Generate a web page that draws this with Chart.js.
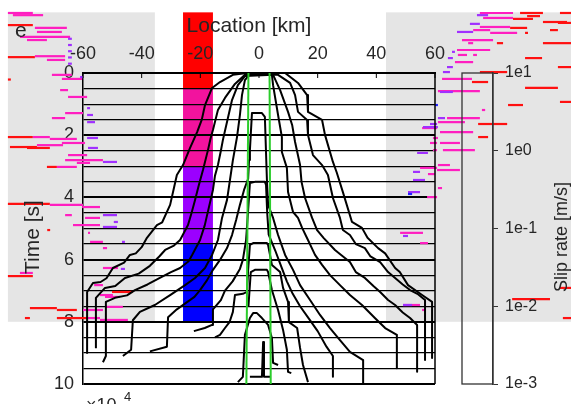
<!DOCTYPE html>
<html><head><meta charset="utf-8">
<style>
html,body{margin:0;padding:0;background:#fff;}
#wrap{position:relative;width:571px;height:404px;overflow:hidden;}
#c1{position:absolute;left:0;top:0;}
#c2{position:absolute;left:440px;top:0;}
</style>
<script src="https://cdn.jsdelivr.net/npm/chart.js@4.4.0/dist/chart.umd.min.js"></script>
</head><body>
<div id="wrap"><canvas id="c1" width="571" height="404"></canvas><canvas id="c2" width="131" height="404"></canvas></div>
<script>
// ---------- data ----------
const locationTicks = [-60,-40,-20,0,20,40,60];
const timeTicks = [0,2,4,6,8,10];
const slipRateTicks = [1e1,1e0,1e-1,1e-2,1e-3];
const slipRateLabels = ['1e1','1e0','1e-1','1e-2','1e-3'];
const xTitle = 'Location [km]';
const yTitle = 'Time [s]';
const cTitle = 'Slip rate [m/s]';
const panelLabel = 'e';

// grey background panels: [kmFrom, kmTo, tFrom, tTo]
const greyPanels = [[-85.6,-35.5,-1.95,8.0],[43.3,107,-1.95,8.0]];
// coloured band
const bandLocation = [-25.9,-15.7];
const bandTimes = [-1.95,0.5,3.0,5.5,8.0];

// contour curves [km, s]
const contourA = [[-58.6,9.03],[-58.6,7.04],[-56.6,6.75],[-54,6.72],[-52,6.6],[-49.8,6.27],[-46,6.1],[-44,5.85],[-42,5.8],[-40,5.6],[-38.2,5.3],[-34.8,4.89],[-33,4.8],[-30.3,4.24],[-29,3.7],[-28,3.28],[-25.9,2.96],[-23.5,2.41],[-21.1,1.9],[-19.5,1.5],[-18.4,1.03],[-16,0.48],[-13.3,0.29],[-8.9,0.06],[-4.1,0],[8.9,0],[13.3,0.32],[16.4,0.71],[16.7,1.25],[21.5,1.51],[22.5,1.99],[25.2,2.86],[26.5,3.2],[28.6,3.83],[31.7,4.79],[35.1,4.98],[37,5.3],[40.6,5.63],[43,5.8],[46.4,6.27],[48,6.4],[50.8,6.82],[55.6,7.14],[59,7.36],[59,9.16]];
const contourB = [[-55.6,8.85],[-55.6,7.23],[-52.5,6.91],[-49,6.85],[-45.7,6.59],[-41,6.45],[-37.2,6.2],[-34,5.9],[-32,5.69],[-29,5.55],[-26.9,5.37],[-24.2,4.89],[-23,4.5],[-21.8,4.08],[-20.5,3.6],[-19.1,3.12],[-17.4,2.48],[-16.5,2.1],[-15.7,1.83],[-14,1.19],[-11.6,0.8],[-8.2,0.35],[-4.8,0.06],[6.5,0.06],[10.6,0.32],[12.3,0.71],[13.3,1.25],[16.4,1.51],[16.7,1.99],[18.4,2.64],[21.5,2.96],[23.5,3.28],[25.2,4.02],[27.6,4.66],[28.6,5.05],[31,5.21],[33,5.5],[36.1,5.63],[38,5.9],[41.3,6.08],[44,6.4],[46.4,6.59],[49,6.8],[51.5,6.98],[54,7.1],[56.6,7.3],[56.6,9.23]];
const contourC = [[-53.2,9.3],[-52.2,9.1],[-52.2,7.36],[-49.1,7.23],[-45,7.15],[-42.3,6.98],[-38,6.8],[-33.8,6.59],[-30,6.4],[-26.9,6.27],[-24,6.05],[-22.8,5.85],[-20.1,5.37],[-18.5,4.9],[-17.7,4.57],[-15.7,3.76],[-15,3.3],[-14,2.96],[-13,2.5],[-12.3,2.15],[-10.6,1.45],[-9.2,0.87],[-7.2,0.39],[-4.8,0.1],[4.8,0.06],[7.2,0.55],[9.9,1.25],[11.3,1.67],[12.3,2.22],[14,2.96],[14.5,3.5],[15.7,4.02],[18.1,4.66],[19.8,5.05],[22,5.3],[25.9,5.69],[28,5.85],[31,6.08],[33,6.4],[36.1,6.59],[39,6.85],[41.3,7.04],[44,7.3],[46.4,7.46],[49,7.7],[51.5,7.88],[53.9,8.1],[53.9,9.61]];
const contourD = [[-46.4,9.1],[-43.6,8.9],[-43,7.95],[-40.6,7.68],[-35.5,7.46],[-30.3,7.14],[-25.2,6.82],[-21.8,6.59],[-18.4,6.27],[-16,5.85],[-14,5.37],[-12.6,4.66],[-10.9,4.08],[-9.9,3.44],[-8.9,2.8],[-7.5,2.06],[-6.5,1.35],[-5.8,0.71],[-4.8,0.23],[-3.1,0.03],[4.4,0.06],[4.8,0.39],[6.5,1.35],[7.8,2.06],[7.8,2.54],[9.5,3.05],[9.9,3.83],[11.6,4.47],[13.3,4.66],[14.7,4.98],[16.7,5.37],[19.1,5.85],[21.5,6.17],[24.2,6.5],[27.6,6.82],[31,7.14],[35.1,7.46],[39.5,7.88],[43,8.2],[47,8.42],[47,9.49]];
const contourE = [[-37.2,8.95],[-31.4,8.8],[-31,7.85],[-28,7.6],[-25,7.4],[-22,7.2],[-20.1,6.98],[-17.7,6.66],[-15.7,6.33],[-13.3,6.01],[-10.9,5.63],[-9.2,5.21],[-7.8,4.73],[-6.5,4.24],[-5.1,3.76],[-3.7,3.4],[-3.4,2.8],[-3.1,2.48],[-2.4,1.29],[1,1.29],[2,1.41],[2.7,3.44],[3.1,4.24],[4.8,4.66],[6.5,5.21],[8.9,5.85],[11.6,6.33],[14,6.82],[17.4,7.3],[20.8,7.78],[24.2,8.2],[27.6,8.59],[31,8.97],[35.5,9.23],[35.5,9.97]];
const contourF = [[-22.2,8.3],[-18.5,8.2],[-16,8.1],[-15.7,7.6],[-13,7.3],[-11.6,7.0],[-9,6.7],[-6.5,6.3],[-5.5,6.01],[-4.4,5.37],[-3.7,4.4],[-3.1,3.54],[-1.4,3.5],[2,3.5],[2.4,3.6],[2.8,4.5],[3.3,5.2],[5.5,5.7],[7.5,6.2],[9.5,6.7],[11.5,7.1],[14,7.5],[17,7.9],[20,8.3],[23,8.8],[25.2,9.1],[25.2,9.77]];
const contourG = [[-15,8.5],[-13.3,8.42],[-11.6,8.2],[-10,8.0],[-8.9,7.68],[-8.2,7.14],[-5.5,7.1],[-4.1,7.04],[-3.7,6.33],[-3.1,5.53],[-2,5.47],[2.7,5.47],[3.1,5.53],[4.4,6.17],[7.2,6.4],[8.2,6.91],[9.9,7.36],[10.2,8.01],[13,8.2],[14,8.84],[15,9.39],[16.7,9.94]];
const contourH = [[-3.6,7.5],[-2.8,6.4],[-1.4,6.33],[2.7,6.33],[3.1,6.4],[4.4,6.98],[6.5,7.62],[8.2,8.26],[9.5,8.9],[9.9,9.61],[11,9.65]];
const contourI = [[-7.2,9.94],[-5.5,9.77],[-4.8,8.42],[-3.1,7.88],[-2,7.72],[-0.7,7.72],[1,7.88],[3.1,8.1],[4.4,8.52],[4.8,9.32],[6.5,9.39]];
const contourJ = [[-3.1,9.77],[1,9.77],[1.4,8.65],[1.7,9.77],[3.75,9.77]];
const contours = [contourA,contourB,contourC,contourD,contourE,contourF,contourG,contourH,contourI,contourJ];

const greenLeft = [[-3.6,0],[-4.3,10]];
const greenRight = [[3.6,0],[4.0,10]];

// slip-rate dashes [kmFrom, kmTo, time]
const redDashes = [[-85.6,-77.1,-1.54],[-85.6,-76.4,-0.51],[-85.6,-84.6,0.21],[-85.6,-77.1,2.06],[-84.9,-75.7,2.38],[-79.1,-71.3,2.41],[-72.3,-68.9,3.02],[-85.6,-71.3,4.21],[-72.2,-71.2,5.05],[-85.6,-77.1,6.53],[-50.1,-43,7.04],[-78.1,-68.9,7.56],[-68.9,-62.1,7.62],[-79.8,-78.1,7.88],[-68.9,-58.6,7.88],
[102.6,106.4,-1.93],[89,96.8,-1.93],[91.4,95.8,-1.83],[86.6,93.4,-1.74],[96.8,105,-1.64],[101.9,106.4,-1.61],[85.6,91.4,-1.45],[99.2,101.9,-1.38],[90.7,91.7,-1.29],[81.1,83.2,-0.96],[96.8,106.4,-0.96],[90.7,96.5,-0.48],[101.9,106.4,-0.19],[75.3,84.6,-0.03],[72.6,78.1,0.29],[90.7,101.9,0.48],[102.6,106.4,0.93],[84.9,90,1.03],[74.7,84.6,1.64],[74.7,78.1,2.06],[86.3,99.2,7.27],[102.6,106.4,6.91],[103.6,106.4,7.88]];
const magentaDashes = [[-85.6,-77.1,-1.93],[-83.9,-73.6,-1.86],[-76.4,-65.5,-1.45],[-75.7,-67.2,-1.32],[-81.5,-64.4,-1.16],[-79.1,-72.3,-1.06],[-76.4,-66.1,-0.54],[-72.3,-66.1,-0.42],[-70.6,-63.8,0.06],[-67.2,-60.3,0.19],[-67.8,-65.1,0.55],[-65.1,-58.6,0.77],[-70.6,-66.1,1.45],[-66.1,-60,1.29],[-77.1,-71.3,2.06],[-71.3,-62.1,2.12],[-75.7,-66.8,2.32],[-67.2,-59.3,2.25],[-65.1,-58.6,2.64],[-66.1,-53.2,2.8],[-62.1,-57.6,2.89],[-68.9,-62.1,3.02],[-71.3,-60,4.24],[-60.3,-54.2,4.31],[-66.1,-63.8,4.57],[-59.3,-54.2,4.66],[-63.4,-54.2,4.89],[-58.3,-57.6,5.14],[-57.6,-53.2,5.43],[-53.2,-51.8,5.63],[-53.2,-48.1,6.27],[-81.5,-77.1,6.43],[-56.2,-53.2,6.82],[-54.2,-49.8,7.14],[-52.5,-47.4,7.2],[-60,-53.2,7.62],[-52.5,-46.4,7.52],[-58.6,-54.2,7.88],[-54.2,-44.7,7.94],
[75.3,86.6,-1.93],[76.4,86.6,-1.77],[75.3,85.6,-1.48],[73,78.8,-1.38],[78.8,88,-1.29],[69.2,79.8,-1.06],[71.3,73,-0.96],[67.5,78.8,-0.74],[67.8,70.9,-0.58],[73,74.3,-0.58],[66.8,73,-0.35],[62.4,72.6,0.19],[61,75.3,0.58],[76,77.1,1.19],[64.1,75.3,1.45],[61,70.2,1.58],[61.7,73,1.9],[59.3,61,2.09],[61.7,68.5,2.25],[59.3,60.7,2.48],[62.7,73.6,2.48],[61,65.1,2.96],[54.9,60.7,3.05],[60.7,68.5,3.12],[57.6,59.9,3.25],[61,62.4,3.7],[55.6,60.7,1.77],[58.3,60.7,2.25],[57.3,60.7,3.99],[48.1,55.9,5.14],[54.9,57.6,5.47],[49.1,54.9,7.46],[55.6,56.6,7.62]];
const purpleDashes = [[-65.1,-63.8,-1.1],[-65.1,-63.8,-0.9],[-65.1,-63.8,-0.7],[-65.1,-63.8,-0.5],[-65.1,-63.8,-0.3],[-61,-60,0.13],[-58.6,-57.6,1.13],[-58.6,-56.6,1.35],[-58.6,-55.9,1.58],[-58.6,-54.9,2.09],[-58.3,-54.9,2.41],[-53.2,-48.4,2.86],[-53.2,-48.4,4.57],[-49.5,-48.1,4.79],[-53.2,-48.4,4.95],[-46.7,-45.7,5.43],[-47.1,-45.7,6.3],
[74.3,78.1,-1.86],[71.9,75.3,-1.58],[67.5,73,-1.32],[65.8,66.8,-0.68],[64.4,66.1,-0.48],[64.1,66.1,-0.19],[62.7,65.1,-0.03],[61.7,66.1,0.61],[61,63.4,1.45],[55.9,61,1.74],[58.3,60.7,1.64],[53.9,57.6,2.57],[52.5,54.9,3.18],[52.5,56.6,3.44],[50.8,54.9,3.83],[49.1,50.8,5.24],[49.1,52.2,7.46]];
const blueDashes = [[60,61,1.03],[50.8,52.2,3.89]];

// ---------- styles ----------
const FONT = "'Liberation Sans', Arial, Helvetica, sans-serif";
const TXT = '#262626';
const GREY = '#e5e5e5';
const bandColors = ['#ff0000','#f2139e','#9b00ff','#0000ff'];
const dashSets = [[redDashes,'#ff1010'],[magentaDashes,'#ff1ec0'],[purpleDashes,'#a030ff'],[blueDashes,'#2020ff']];

const zeroPad = s => { s.paddingLeft = 0; s.paddingRight = 0; s.paddingTop = 0; s.paddingBottom = 0; };
const toXY = arr => arr.map(p => ({x:p[0], y:p[1]}));

const datasets = [];
[greenLeft, greenRight].forEach(g => datasets.push({data: toXY(g), borderColor:'#2bcc2b', borderWidth:2, pointRadius:0, fill:false, tension:0}));
contours.forEach(c => datasets.push({data: toXY(c), borderColor:'#000', borderWidth:2, pointRadius:0, fill:false, tension:0, borderJoinStyle:'round'}));

const bgPlugin = {
  id:'bg',
  beforeDraw(chart){
    const {ctx, scales:{x, y}} = chart;
    ctx.save();
    ctx.fillStyle = '#fff'; ctx.fillRect(0,0,chart.width,chart.height);
    ctx.fillStyle = GREY;
    greyPanels.forEach(p => {
      const x1 = x.getPixelForValue(p[0]), x2 = x.getPixelForValue(p[1]);
      const y1 = y.getPixelForValue(p[2]), y2 = y.getPixelForValue(p[3]);
      ctx.fillRect(x1, y1, x2-x1, y2-y1);
    });
    const bx1 = x.getPixelForValue(bandLocation[0]), bx2 = x.getPixelForValue(bandLocation[1]);
    for (let i = 0; i < bandColors.length; i++) {
      const y1 = y.getPixelForValue(bandTimes[i]), y2 = y.getPixelForValue(bandTimes[i+1]);
      ctx.fillStyle = bandColors[i];
      ctx.fillRect(bx1, y1, bx2-bx1, y2-y1);
    }
    ctx.restore();
  },
  beforeDatasetsDraw(chart){
    const {ctx, scales:{x, y}} = chart;
    ctx.save();
    ctx.lineWidth = 2.2; ctx.lineCap = 'butt';
    dashSets.forEach(([set, col]) => {
      ctx.strokeStyle = col;
      set.forEach(d => {
        const py = y.getPixelForValue(d[2]);
        ctx.beginPath();
        ctx.moveTo(x.getPixelForValue(d[0]), py);
        ctx.lineTo(x.getPixelForValue(d[1]), py);
        ctx.stroke();
      });
    });
    ctx.restore();
  },
  afterDraw(chart){
    const {ctx, chartArea:a, scales:{x}} = chart;
    ctx.save();
    ctx.strokeStyle = '#000'; ctx.lineWidth = 1.5;
    ctx.beginPath(); ctx.moveTo(a.right, a.top); ctx.lineTo(a.right, a.bottom); ctx.stroke();
    ctx.lineWidth = 1;
    locationTicks.forEach(v => {
      const px = x.getPixelForValue(v);
      ctx.beginPath(); ctx.moveTo(px, a.top); ctx.lineTo(px, a.top + 5); ctx.stroke();
    });
    ctx.fillStyle = TXT;
    ctx.font = '21px ' + FONT; ctx.textAlign = 'center'; ctx.textBaseline = 'middle';
    ctx.fillText(xTitle, 249, 26);
    ctx.save(); ctx.translate(33, 237); ctx.rotate(-Math.PI/2); ctx.fillText(yTitle, 0, 0); ctx.restore();
    ctx.textAlign = 'left'; ctx.textBaseline = 'alphabetic';
    ctx.font = '21px ' + FONT; ctx.fillText(panelLabel, 15, 37);
    ctx.font = '18px ' + FONT; ctx.fillText('\u00d710', 86, 411);
    ctx.font = '13px ' + FONT; ctx.fillText('4', 124, 401);
    ctx.restore();
  }
};

new Chart(document.getElementById('c1'), {
  type:'line',
  data:{datasets},
  options:{
    responsive:false, animation:false, events:[],
    plugins:{legend:{display:false}, tooltip:{enabled:false}},
    layout:{padding:{left:0, right:136, top:0, bottom:20}},
    scales:{
      x:{type:'linear', position:'top', min:-60, max:60,
         afterBuildTicks: s => { s.ticks = locationTicks.map(v => ({value:v})); },
         ticks:{font:{size:18, family:FONT}, color:TXT, padding:8, maxRotation:0, autoSkip:false},
         grid:{display:false, drawTicks:false},
         border:{display:true, color:'#000', width:2},
         afterFit: s => { s.height = 73; zeroPad(s); }},
      y:{type:'linear', position:'left', reverse:true, min:0, max:10,
         ticks:{stepSize:0.5, autoSkip:false, font:{size:18, family:FONT}, color:TXT, padding:9,
                callback: v => timeTicks.includes(v) ? String(v) : ''},
         grid:{color:'#000', drawTicks:false, lineWidth: c => (c.tick && timeTicks.includes(c.tick.value)) ? 2 : 1.2},
         border:{display:true, color:'#000', width:1.5},
         afterFit: s => { s.width = 83; zeroPad(s); }}
    }
  },
  plugins:[bgPlugin]
});

const boxPlugin = {
  id:'cbox',
  afterDraw(chart){
    const {ctx, chartArea:a} = chart;
    ctx.save();
    ctx.strokeStyle = '#333'; ctx.lineWidth = 1.3;
    ctx.strokeRect(a.left, a.top, a.right - a.left, a.bottom - a.top);
    ctx.fillStyle = TXT; ctx.font = '18px ' + FONT; ctx.textAlign = 'center'; ctx.textBaseline = 'middle';
    ctx.translate(122, 237); ctx.rotate(-Math.PI/2); ctx.fillText(cTitle, 0, 0);
    ctx.restore();
  }
};

new Chart(document.getElementById('c2'), {
  type:'scatter',
  data:{datasets:[{data:[]}]},
  options:{
    responsive:false, animation:false, events:[],
    plugins:{legend:{display:false}, tooltip:{enabled:false}},
    layout:{padding:{left:22, right:0, top:73, bottom:20}},
    scales:{
      x:{display:false, min:0, max:1},
      y:{type:'logarithmic', position:'right', min:1e-3, max:1e1,
         afterBuildTicks: s => { s.ticks = slipRateTicks.map(v => ({value:v})); },
         ticks:{font:{size:16, family:FONT}, color:TXT, padding:7,
                callback: v => { const i = slipRateTicks.indexOf(v); return i >= 0 ? slipRateLabels[i] : ''; }},
         grid:{drawOnChartArea:false, drawTicks:true, tickLength:5, color:'#333'},
         border:{display:true, color:'#333', width:1.3},
         afterFit: s => { s.width = 78; zeroPad(s); }}
    }
  },
  plugins:[boxPlugin]
});
</script>
</body></html>
